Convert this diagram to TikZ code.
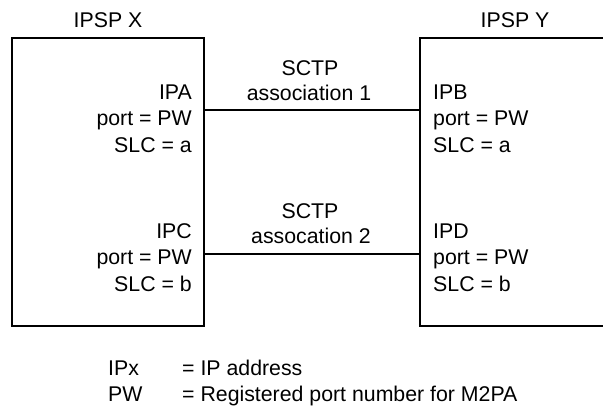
\documentclass[tikz,border=0pt]{standalone}
\usepackage{fontspec}
\setmainfont{Liberation Sans}
\begin{document}
\begin{tikzpicture}[x=1pt,y=-1pt,
  txt/.style={inner sep=0pt,font=\fontsize{21.3}{25}\selectfont},
  lft/.style={txt,anchor=base east},
  rgt/.style={txt,anchor=base west},
  mid/.style={txt,anchor=base},
  box/.style={draw,line width=2pt,inner sep=0pt,minimum width=#1,minimum height=288},
  conn/.style={line width=2pt}]
\useasboundingbox (0,0) rectangle (603,410);
\clip (0,0) rectangle (603,410);
% boxes
\node[box=192] (bx) at (108,182) {};
\node[box=200] (by) at (520,182) {};
% titles
\node[mid] (tx) at (108,27) {IPSP X};
\node[mid] (ty) at (515,27) {IPSP Y};
% left texts
\node[lft] (ipa) at (192,99) {IPA};
\node[lft] (pa) at (192,125.5) {port = PW};
\node[lft] (sa) at (192,152) {SLC = a};
\node[lft] (ipc) at (192,238) {IPC};
\node[lft] (pc) at (192,264.5) {port = PW};
\node[lft] (sc) at (192,291) {SLC = b};
% right texts
\node[rgt] (ipb) at (433,99) {IPB};
\node[rgt] (pb) at (433,125.5) {port = PW};
\node[rgt] (sb) at (433,152) {SLC = a};
\node[rgt] (ipd) at (433,238) {IPD};
\node[rgt] (pd) at (433,264.5) {port = PW};
\node[rgt] (sd) at (433,291) {SLC = b};
% association labels
\node[mid] (s1) at (310,75) {SCTP};
\node[mid] (a1) at (309,100) {association 1};
\node[mid] (s2) at (310,218) {SCTP};
\node[mid] (a2) at (311,243) {assocation 2};
% connectors
\coordinate (xa) at (bx.east |- 0,110);
\coordinate (ya) at (by.west |- 0,110);
\coordinate (xc) at (bx.east |- 0,254);
\coordinate (yc) at (by.west |- 0,254);
\draw[conn] (xa) -- (ya);
\draw[conn] (xc) -- (yc);
% legend
\node[rgt] (l1) at (108,375) {IPx};
\node[rgt] (l1d) at (182,375) {= IP address};
\node[rgt] (l2) at (108,401.7) {PW};
\node[rgt] (l2d) at (182,401.7) {= Registered port number for M2PA};
\end{tikzpicture}
\end{document}
